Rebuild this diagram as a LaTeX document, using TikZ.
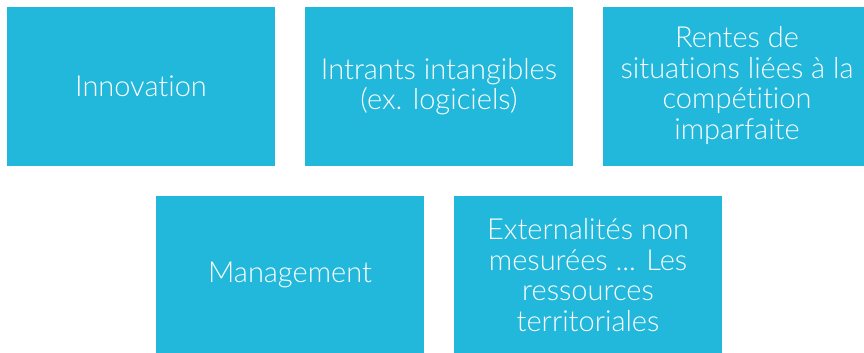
\documentclass[tikz,border=0pt]{standalone}
\usepackage{fontspec}
\IfFontExistsTF{Lato Light}{\setmainfont{Lato Light}[Ligatures={NoCommon,NoRare}]}{\setmainfont{TeX Gyre Heros}}
\definecolor{boxblue}{RGB}{33,184,219}
\begin{document}
\begin{tikzpicture}[x=1pt,y=-1pt,
  tile/.style={fill=boxblue,draw=none},
  lbl/.style={text=white,align=center,font=\fontsize{29}{30.5}\selectfont,inner sep=0pt}]
\useasboundingbox (0,0) rectangle (864,353);
\fill[tile] (7,7) rectangle (275,166);
\fill[tile] (305,7) rectangle (573,166);
\fill[tile] (603,7) rectangle (871,166);
\fill[tile] (156,196) rectangle (424,360);
\fill[tile] (454,196) rectangle (722,360);
\node[lbl] (a) at (141,86.5) {Innovation};
\node[lbl] (b) at (439,86.5) {Intrants intangibles\\(ex. logiciels)};
\node[lbl] (c) at (737,85.5) {Rentes de\\situations liées à la\\compétition\\imparfaite};
\node[lbl] (d) at (290,274.5) {Management};
\node[lbl] (e) at (588,275) {Externalités non\\mesurées ... Les\\ressources\\territoriales};
\end{tikzpicture}
\end{document}
